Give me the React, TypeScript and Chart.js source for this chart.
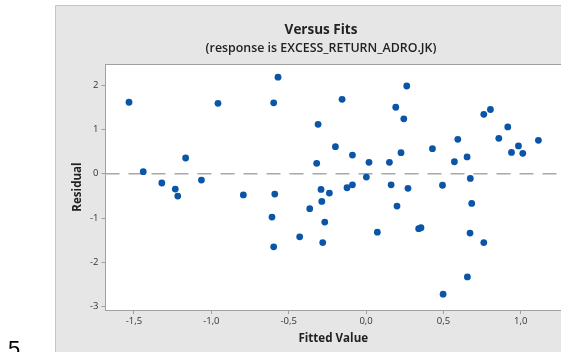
import React, { useEffect, useRef } from 'react';
import { Chart, registerables } from 'chart.js';

Chart.register(...registerables);

const fittedValues = [
  -1.532, -0.957, -1.44, -1.166, -1.32, -1.064, -1.233, -1.217, -0.793, -0.569,
  -0.597, -0.155, -0.31, -0.198, -0.088, -0.319, 0.019, 0.151, 0.192, 0.244,
  0.226, 0.263, 0.002, -0.59, -0.291, -0.237, -0.123, -0.088, 0.162, -0.286,
  -0.364, -0.608, -0.267, -0.429, -0.597, -0.28, 0.073, 0.2, 0.271, 0.494,
  0.683, 0.34, 0.355, 0.672, 0.761, 0.655, 0.498, 0.761, 0.804, 0.916,
  0.593, 0.858, 1.114, 0.429, 0.985, 0.94, 1.013, 0.653, 0.571, 0.674,
];
const residuals = [
  1.613, 1.59, 0.045, 0.355, -0.21, -0.143, -0.347, -0.505, -0.48, 2.18,
  1.6, 1.68, 1.116, 0.61, 0.42, 0.234, 0.256, 0.256, 1.5, 1.24,
  0.475, 1.98, -0.075, -0.46, -0.355, -0.437, -0.317, -0.25, -0.25, -0.626,
  -0.79, -0.98, -1.093, -1.425, -1.65, -1.554, -1.32, -0.73, -0.33, -0.26,
  -0.67, -1.24, -1.22, -1.34, -1.554, -2.33, -2.72, 1.34, 1.45, 1.056,
  0.776, 0.8, 0.753, 0.566, 0.627, 0.48, 0.46, 0.378, 0.27, -0.106,
];
const xTickValues = [-1.5, -1.0, -0.5, 0.0, 0.5, 1.0];
const yTickValues = [-3, -2, -1, 0, 1, 2];
const referenceResidual = 0;
const titleText = 'Versus Fits';
const subtitleText = '(response is EXCESS_RETURN_ADRO.JK)';
const xAxisLabel = 'Fitted Value';
const yAxisLabel = 'Residual';
const pageNumber = '5';

const X_MIN = -1.684;
const X_MAX = 1.26;
const Y_MIN = -3.077;
const Y_MAX = 2.477;

const FONT = "'Open Sans', 'Noto Sans', sans-serif";

const decorPlugin = {
  id: 'decor',
  beforeDraw(chart: any) {
    const { ctx, chartArea } = chart;
    const w = chart.width;
    const h = chart.height;
    ctx.save();
    ctx.fillStyle = '#ffffff';
    ctx.fillRect(0, 0, w, h);
    ctx.fillStyle = '#e6e6e6';
    ctx.fillRect(55.5, 5.5, w - 55.5, h - 5.5);
    ctx.strokeStyle = '#c4c4c4';
    ctx.lineWidth = 1;
    ctx.beginPath();
    ctx.moveTo(55.5, h);
    ctx.lineTo(55.5, 5.5);
    ctx.lineTo(w, 5.5);
    ctx.stroke();
    ctx.fillStyle = '#ffffff';
    ctx.fillRect(chartArea.left, chartArea.top, chartArea.right - chartArea.left, chartArea.bottom - chartArea.top);
    // page number
    ctx.fillStyle = '#000000';
    ctx.font = "22px 'Liberation Sans', sans-serif";
    ctx.textAlign = 'left';
    ctx.textBaseline = 'top';
    ctx.fillText(pageNumber, 8, 339);
    // titles
    ctx.fillStyle = '#222222';
    ctx.textAlign = 'center';
    ctx.textBaseline = 'middle';
    ctx.font = `bold 13.5px ${FONT}`;
    ctx.fillText(titleText, 321, 30);
    ctx.font = `600 12.4px ${FONT}`;
    ctx.fillText(subtitleText, 321, 48);
    ctx.restore();
  },
  afterDraw(chart: any) {
    const { ctx, chartArea } = chart;
    ctx.save();
    ctx.strokeStyle = '#a0a0a0';
    ctx.lineWidth = 1;
    ctx.beginPath();
    ctx.moveTo(chartArea.left, 64.5);
    ctx.lineTo(chartArea.right, 64.5);
    ctx.stroke();
    ctx.restore();
  },
};

const fmtX = (v: number) => (v < 0 ? '-' : '') + Math.abs(v).toFixed(1).replace('.', ',');

export default function App() {
  const ref = useRef<HTMLCanvasElement>(null);
  useEffect(() => {
    if (!ref.current) return;
    const points = fittedValues.map((x, i) => ({ x, y: residuals[i] }));
    const tickFont = { family: FONT, size: 9.5 };
    const chart = new Chart(ref.current, {
      type: 'scatter',
      data: {
        datasets: [
          {
            type: 'line',
            data: [
              { x: X_MIN, y: referenceResidual },
              { x: X_MAX, y: referenceResidual },
            ],
            borderColor: '#a8a8a8',
            borderWidth: 1.4,
            borderDash: [14, 9],
            pointRadius: 0,
            order: 2,
          } as any,
          {
            data: points,
            backgroundColor: '#0a55a8',
            borderColor: '#0a55a8',
            borderWidth: 0,
            pointRadius: 3.4,
            order: 1,
          },
        ],
      },
      options: {
        responsive: false,
        animation: false,
        devicePixelRatio: 1,
        layout: { padding: { left: 70.4, top: 64, right: 0, bottom: 0 } },
        plugins: { legend: { display: false }, tooltip: { enabled: false } },
        scales: {
          x: {
            type: 'linear',
            min: X_MIN,
            max: X_MAX,
            afterBuildTicks: (s: any) => {
              s.ticks = xTickValues.map((v) => ({ value: v }));
            },
            afterFit: (s: any) => {
              s.height = 42;
            },
            grid: { drawOnChartArea: false, drawTicks: true, tickLength: 4, color: '#a0a0a0' },
            border: { color: '#a0a0a0', width: 1 },
            ticks: {
              autoSkip: false,
              maxRotation: 0,
              padding: 2,
              color: '#333333',
              font: tickFont,
              callback: (v: any) => fmtX(Number(v)),
            },
            title: {
              display: true,
              text: xAxisLabel,
              color: '#222222',
              font: { family: FONT, size: 11.6, weight: 'bold' },
              padding: { top: 0, bottom: 6 },
            },
          },
          y: {
            type: 'linear',
            min: Y_MIN,
            max: Y_MAX,
            afterBuildTicks: (s: any) => {
              s.ticks = yTickValues.map((v) => ({ value: v }));
            },
            afterFit: (s: any) => {
              s.width = 35.1;
            },
            grid: { drawOnChartArea: false, drawTicks: true, tickLength: 4, color: '#a0a0a0' },
            border: { color: '#a0a0a0', width: 1 },
            ticks: {
              autoSkip: false,
              padding: 3,
              color: '#333333',
              font: tickFont,
              callback: (v: any) => String(v),
            },
            title: {
              display: true,
              text: yAxisLabel,
              color: '#222222',
              font: { family: FONT, size: 11.6, weight: 'bold' },
              padding: { top: 0, bottom: 0 },
            },
          },
        },
      },
      plugins: [decorPlugin],
    });
    return () => chart.destroy();
  }, []);
  return (
    <div style={{ position: 'fixed', left: 0, top: 0, width: 561, height: 352, overflow: 'hidden' }}>
      <canvas ref={ref} width={565} height={352} style={{ display: 'block' }} />
    </div>
  );
}
